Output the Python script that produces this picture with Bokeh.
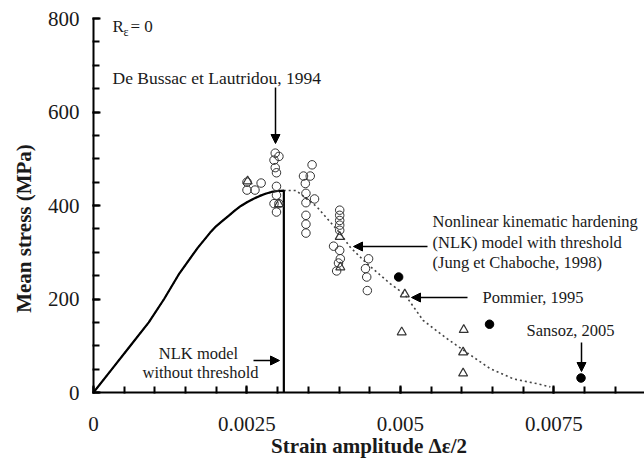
from bokeh.plotting import figure
from bokeh.models import Label, Arrow, NormalHead, FixedTicker
from bokeh.embed import file_html
from bokeh.resources import INLINE
from math import pi

# ---------------- data ----------------
x_ticks = [0, 0.0025, 0.005, 0.0075]
x_tick_labels = ["0", "0.0025", "0.005", "0.0075"]
y_ticks = [0, 200, 400, 600, 800]
y_tick_labels = ["0", "200", "400", "600", "800"]
x_minor_step = 0.0005
y_minor_step = 50

# De Bussac et Lautridou, 1994 (open circles)
bussac_x = [0.0025, 0.0025, 0.00263, 0.00273,
            0.00296, 0.00302, 0.00294, 0.00296, 0.00298, 0.00298, 0.00298, 0.00302, 0.00294, 0.00298,
            0.00356, 0.00342, 0.00353, 0.00345, 0.00346, 0.0036, 0.00346, 0.00346, 0.00346, 0.00346,
            0.00401, 0.00401, 0.00401, 0.00401, 0.00401, 0.00391, 0.00401, 0.00402, 0.00399, 0.00396,
            0.00448, 0.00443, 0.00445, 0.00446]
bussac_y = [450, 433, 433, 448,
            512, 505, 497, 481, 470, 441, 422, 404, 404, 386,
            487, 463, 463, 447, 426, 414, 406, 379, 360, 341,
            390, 379, 368, 358, 347, 313, 304, 286, 277, 260,
            286, 265, 247, 218]

# Pommier, 1995 (open triangles)
pommier_x = [0.00251, 0.00302, 0.00401, 0.00402, 0.00507, 0.00502, 0.00603, 0.00602, 0.00602]
pommier_y = [452, 403, 333, 268, 210, 129, 134, 86, 41]

# Sansoz, 2005 (filled circles)
sansoz_x = [0.00497, 0.00645, 0.00794]
sansoz_y = [247, 146, 31]

# NLK model without threshold (solid)
nlk_x = [0, 0.0003, 0.0006, 0.0009, 0.00115, 0.0014, 0.0017, 0.0019, 0.002, 0.0021, 0.0022, 0.0023,
         0.0024, 0.0025, 0.0026, 0.0027, 0.0028, 0.0029, 0.003, 0.0031, 0.0031]
nlk_y = [0, 50, 100, 150, 200, 255, 310, 342, 356, 367, 378, 389,
         399, 407, 414, 420, 425, 429, 431, 432, 0]

# NLK model with threshold (dotted)
nlkt_x = [0, 0.0003, 0.0006, 0.0009, 0.00115, 0.0014, 0.0017, 0.0019, 0.002, 0.0021, 0.0022, 0.0023,
          0.0024, 0.0025, 0.0026, 0.0027, 0.0028, 0.0029, 0.003, 0.0031,
          0.0033, 0.00364, 0.00402, 0.00418, 0.00445, 0.00483, 0.00507, 0.00516, 0.00537, 0.00576,
          0.00603, 0.00646, 0.00684, 0.00722, 0.00744]
nlkt_y = [0, 50, 100, 150, 200, 255, 310, 342, 356, 367, 378, 389,
          399, 407, 414, 420, 425, 429, 431, 432,
          432, 397, 340, 311, 276, 233, 210, 193, 154, 115,
          90, 51, 29, 19, 12]

# ---------------- layout helpers ----------------
X0, X1 = 0.0, 0.008974
Y0, Y1 = 0, 800
FL, FT, FW, FH = 93, 18, 551, 374


def dx(px):
    return X0 + (px - FL) / FW * (X1 - X0)


def dy(py):
    return Y0 + (FT + FH - py) / FH * (Y1 - Y0)


FONT = "Liberation Serif"
TXT = "#1a1a1a"
TICK = "black"

p = figure(width=644, height=467, x_range=(X0, X1), y_range=(Y0, Y1),
           output_backend="svg", toolbar_location=None,
           min_border_left=FL, min_border_right=0, min_border_top=FT,
           min_border_bottom=467 - FT - FH)
p.outline_line_color = None
p.grid.visible = False
p.border_fill_color = "white"

xt = [i * x_minor_step for i in range(int(round(X1 / x_minor_step)) + 1)]
yt = [i * y_minor_step for i in range(int(round(Y1 / y_minor_step)) + 1)]
p.xaxis.ticker = FixedTicker(ticks=x_ticks, minor_ticks=xt)
p.yaxis.ticker = FixedTicker(ticks=y_ticks, minor_ticks=yt)
p.xaxis.major_label_overrides = dict(zip(x_ticks, x_tick_labels))
p.yaxis.major_label_overrides = dict(zip(y_ticks, y_tick_labels))

for ax in (p.xaxis[0], p.yaxis[0]):
    ax.axis_line_width = 2
    ax.axis_line_color = "black"
    ax.major_tick_line_color = TICK
    ax.minor_tick_line_color = TICK
    ax.major_tick_line_width = 2
    ax.minor_tick_line_width = 2
    ax.major_tick_in = 7
    ax.major_tick_out = 1
    ax.minor_tick_in = 6
    ax.minor_tick_out = 1
    ax.major_label_text_font = FONT
    ax.major_label_text_font_size = "21px"
    ax.major_label_text_color = TXT
    ax.axis_label_text_font = FONT
    ax.axis_label_text_font_size = "21px"
    ax.axis_label_text_font_style = "bold"
    ax.axis_label_text_color = TXT
p.xaxis.major_label_standoff = 23
p.yaxis.major_label_standoff = 13
p.xaxis.axis_label = "Strain amplitude Δε/2"
p.xaxis.axis_label_standoff = 0

# curves
p.line(nlkt_x, nlkt_y, line_color="#444444", line_width=1.6, line_dash="2 3")
p.line(nlk_x, nlk_y, line_color="black", line_width=2.2)

# markers
p.scatter(bussac_x, bussac_y, marker="circle", size=8.5, fill_color="white", fill_alpha=0,
          line_color="#333333", line_width=1)
p.scatter(pommier_x, pommier_y, marker="triangle", size=9, fill_color="white", fill_alpha=0,
          line_color="#333333", line_width=1.2)
p.scatter(sansoz_x, sansoz_y, marker="circle", size=8.5, fill_color="black", line_color="black")


def lab(text, px, py, align="left", size="16.5px"):
    p.add_layout(Label(x=dx(px), y=dy(py), text=text, text_font=FONT, text_font_size=size,
                       text_align=align, text_baseline="middle", text_color=TXT))


def arrow(px0, py0, px1, py1):
    p.add_layout(Arrow(x_start=dx(px0), y_start=dy(py0), x_end=dx(px1), y_end=dy(py1),
                       line_width=1.5, line_color="black",
                       end=NormalHead(size=9, fill_color="black", line_color="black", line_width=1)))


lab("R", 112, 26, size="17px")
lab("ε", 123, 31, size="12px")
lab("= 0", 130, 26, size="17px")
lab("De Bussac et Lautridou, 1994", 112, 77, size="17.5px")
arrow(275, 87, 275, 143)
lab("Nonlinear kinematic hardening", 432, 221)
lab("(NLK) model with threshold", 432, 242)
lab("(Jung et Chaboche, 1998)", 432, 262)
arrow(427, 246, 353, 246)
lab("Pommier, 1995", 482, 297)
arrow(467, 297, 411, 297)
lab("Sansoz, 2005", 570, 330, align="center")
arrow(581, 342, 581, 371)
lab("NLK model", 198, 353, align="center")
lab("without threshold", 200, 372, align="center")
arrow(253, 360, 279, 360)

# y axis title in the left side panel, vertically placed in data units
ytitle = Label(x=3, y=dy(228), x_units="screen", y_units="data", text="Mean stress (MPa)",
               text_font=FONT, text_font_size="21px", text_font_style="bold",
               text_align="center", text_baseline="middle", text_color=TXT, angle=pi / 2)
p.add_layout(ytitle, "left")

open("out.html", "w").write(file_html(p, INLINE))
